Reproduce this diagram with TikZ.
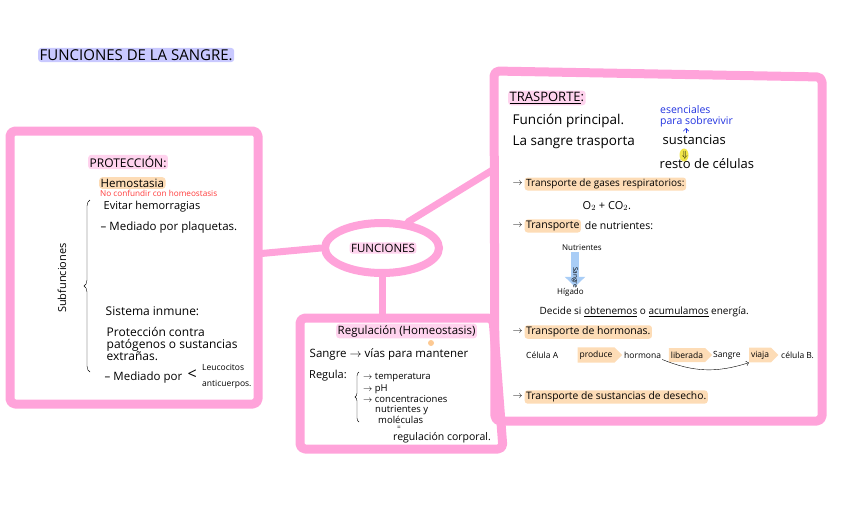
\documentclass[tikz,border=0pt]{standalone}
\usepackage{fontspec}
\setmainfont{Open Sans}
\usetikzlibrary{arrows.meta,positioning,calc,shapes.geometric,shapes.symbols,decorations.pathreplacing}
\definecolor{rosa}{HTML}{FFA3DA}
\definecolor{rosaclaro}{HTML}{FFD3EE}
\definecolor{lavanda}{HTML}{C9C9FF}
\definecolor{naranja}{HTML}{FDDCB6}
\definecolor{rojo}{HTML}{FF3A3A}
\definecolor{azul}{HTML}{2233E0}
\definecolor{amarillo}{HTML}{F2E64A}
\definecolor{celeste}{HTML}{A9CDF6}
\newcommand{\flecha}{$\rightarrow$}
\newcommand{\tam}[1]{\fontsize{#1}{#1}\selectfont}

\begin{document}
\begin{tikzpicture}[x=1pt,y=-1pt,>={Straight Barb},
    marco/.style={draw=rosa,line width=9pt,rounded corners=5pt,line join=round},
    conector/.style={draw=rosa,line width=7pt,line cap=round},
    txt/.style={anchor=west,inner sep=1.5pt,font=\tam{10}},
    chico/.style={anchor=west,inner sep=1pt,font=\tam{8}},
    mini/.style={anchor=west,inner sep=1pt,font=\tam{6.5}},
    marca/.style={fill=#1,rounded corners=3pt},
    chevron/.style={signal,signal to=east,fill=naranja,inner xsep=2pt,minimum height=14pt,font=\tam{8.5}}]
  \useasboundingbox (0,0) rectangle (848,530);

  % titulo
  \node[txt,marca=lavanda,font=\tam{15}] (titulo) at (38,55) {FUNCIONES DE LA SANGRE.};

  % cajas
  \node[marco,minimum width=248pt,minimum height=273pt] (cajaproteccion) at (134,267.5) {};
  \draw[marco] (494,71) coordinate (t1) -- (822,77) coordinate (t2)
    -- (822,421) coordinate (t3) -- (495,421) coordinate (t4) -- cycle;
  \draw[marco] (300,318) coordinate (r1) -- (493,318) coordinate (r2)
    -- (503,449) coordinate (r3) -- (300,449) coordinate (r4) -- cycle;

  % nodo central
  \node[ellipse,draw=rosa,line width=8pt,minimum width=114pt,minimum height=50pt] (funciones) at (382,248) {};
  \node[marca=rosaclaro,inner sep=1.5pt,font=\tam{11.5}] (funcionestxt) at (383,248) {FUNCIONES};
  \draw[conector] (funciones.west) -- ($(cajaproteccion.north east)!0.45!(cajaproteccion.south east)$);
  \draw[conector] (funciones.45) -- ($(t1)!0.28!(t4)$);
  \draw[conector] (funciones.south) -- (funciones.south |- r1);

  % proteccion
  \node[txt,marca=rosaclaro,font=\tam{12}] (proteccion) at (88,162) {PROTECCIÓN:};
  \node[txt,marca=naranja,font=\tam{11.5}] (hemostasia) at (99,183) {Hemostasia};
  \node[mini,text=rojo,font=\tam{8.2}] (nota) at (99,193) {No confundir con homeostasis};
  \node[txt,font=\tam{11}] (evitar) at (102,207) {Evitar hemorragias};
  \node[txt,font=\tam{11.5}] (plaquetas) at (99,228) {– Mediado por plaquetas.};
  \node[txt,font=\tam{12}] (inmune) at (104,311) {Sistema inmune:};
  \node[txt,align=left,font=\fontsize{12}{12}\selectfont] (patogenos) at (105,344) {Protección contra\\patógenos o sustancias\\extrañas.};
  \node[txt,font=\tam{11.5}] (mediado) at (103,378) {– Mediado por};
  \node[txt,font=\tam{16}] (menor) at (186,375) {<};
  \node[mini,font=\tam{8.5}] (leucocitos) at (201,367) {Leucocitos};
  \node[mini,font=\tam{8.5}] (anticuerpos) at (201,384) {anticuerpos.};
  \node[chico,anchor=center,rotate=90,font=\tam{11}] (subfunciones) at (62,278) {Subfunciones};
  \draw[decorate,decoration={brace,amplitude=6pt}] (90,372) -- (90,200);

  % regulacion
  \node[txt,marca=rosaclaro,font=\tam{11.5}] (regulacion) at (336,331) {Regulación (Homeostasis)};
  \fill[naranja!80!orange] (431,343) circle (3pt);
  \node[txt,font=\tam{11.5}] (mantener) at (308,354) {Sangre \flecha\ vías para mantener};
  \node[chico,font=\tam{11}] (regula) at (308,376) {Regula:};
  \draw[decorate,decoration={brace,amplitude=4pt}] (359,422) -- (359,372);
  \node[chico,font=\tam{9.5}] (temperatura) at (362,378) {\flecha\ temperatura};
  \node[chico,font=\tam{9.5}] (ph) at (362,389) {\flecha\ pH};
  \node[chico,font=\tam{9.5}] (concentraciones) at (362,399.5) {\flecha\ concentraciones};
  \node[chico,font=\tam{9.5}] (nutrientesy) at (374,410) {nutrientes y};
  \node[chico,font=\tam{9.5}] (moleculas) at (377,420) {moléculas};
  \node[mini] (igual) at (396,428) {=};
  \node[chico,font=\tam{10.5}] (corporal) at (392,438) {regulación corporal.};

  % trasporte
  \node[txt,marca=rosaclaro,font=\tam{13}] (trasporte) at (508,98) {\underline{TRASPORTE}:};
  \node[txt,font=\tam{13.5}] (principal) at (511,121) {Función principal.};
  \node[txt,font=\tam{13.5}] (lasangre) at (511,142) {La sangre trasporta};
  \node[txt,font=\tam{13}] (sustancias) at (661,140) {sustancias};
  \node[chico,text=azul,align=left,font=\fontsize{10.5}{11}\selectfont] (esenciales) at (659,116) {esenciales\\para sobrevivir};
  \coordinate (ba) at (686,133);
  \draw[->,azul,semithick] (ba) -- ++(0,-5);
  \fill[amarillo] (684,155) ellipse (4.5pt and 6.5pt);
  \node[inner sep=0pt,font=\tam{9}] (baja) at (685,155) {$\Downarrow$};
  \node[txt,font=\tam{13}] (resto) at (658,164) {resto de células};
  \node[txt] (fg) at (511,184) {\flecha};
  \node[txt,marca=naranja,right=0pt of fg,font=\tam{10}] (gases) {Transporte de gases respiratorios:};
  \node[txt,font=\tam{11}] (o2) at (581,206) {O$_2$ + CO$_2$.};
  \node[txt] (fn) at (511,226) {\flecha};
  \node[txt,marca=naranja,right=0pt of fn,font=\tam{10.5}] (nutrientes) {Transporte};
  \node[txt,right=2pt of nutrientes,font=\tam{10.5}] (denutrientes) {de nutrientes:};
  \node[mini,font=\tam{8}] (nutri) at (561,248) {Nutrientes};
  \node[mini,font=\tam{8}] (higado) at (556,292) {Hígado};
  \draw[celeste,line width=8pt,-{Triangle[width=20pt,length=10pt]}] (nutri.south -| 575,0) -- (higado.north -| 575,0);
  \node[mini,rotate=-90] (sangre) at (575,266) {Sangre};
  \node[txt,font=\tam{10}] (decide) at (538,312) {Decide si \underline{obtenemos} o \underline{acumulamos} energía.};
  \node[txt] (fh) at (511,332) {\flecha};
  \node[txt,marca=naranja,right=0pt of fh,font=\tam{10.5}] (hormonas) {Transporte de hormonas.};
  \node[chico,font=\tam{8.5}] (celulaa) at (525,355) {Célula A};
  \node[chevron] (produce) at (596,355) {produce};
  \node[chico,font=\tam{8.5}] (hormona) at (623,355) {hormona};
  \node[chevron] (liberada) at (687,355) {liberada};
  \node[chico,font=\tam{8.5}] (sangreviaja) at (712,355) {Sangre};
  \node[chevron] (viaja) at (760,355) {viaja};
  \node[chico,font=\tam{8.5}] (celulab) at (780,355) {célula B.};
  \draw[->] (hormona.south east) to[bend right=20] (viaja.south west);
  \node[txt] (fd) at (511,397) {\flecha};
  \node[txt,marca=naranja,right=0pt of fd,font=\tam{10.3}] (desecho) {Transporte de sustancias de desecho.};
\end{tikzpicture}
\end{document}
